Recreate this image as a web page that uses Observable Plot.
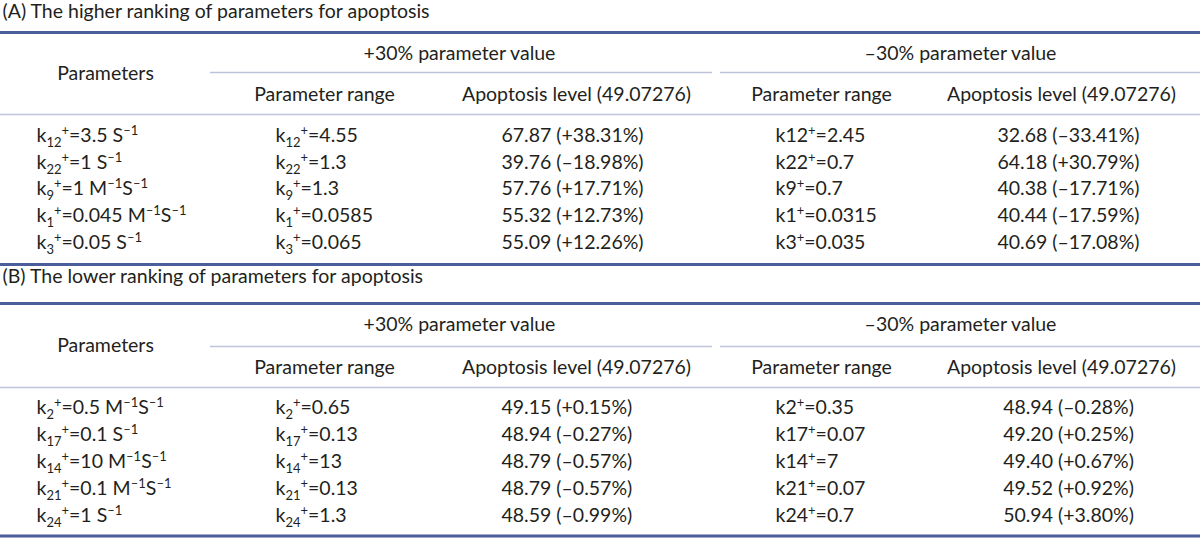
<!DOCTYPE html>
<html><head><meta charset="utf-8">
<script src="https://cdn.jsdelivr.net/npm/d3@7"></script>
<script src="https://cdn.jsdelivr.net/npm/@observablehq/plot@0.6"></script>
<style>body{margin:0;background:#fff;}</style>
</head><body><div id="chart"></div>
<script>
// ---------- data ----------
const titleA = "(A) The higher ranking of parameters for apoptosis";
const titleB = "(B) The lower ranking of parameters for apoptosis";
const groupHeaders = ["+30% parameter value", "–30% parameter value"];
const colHeaders = ["Parameters", "Parameter range", "Apoptosis level (49.07276)", "Parameter range", "Apoptosis level (49.07276)"];

const idxA = ["12", "22", "9", "1", "3"];
const baseA = ["3.5", "1", "1", "0.045", "0.05"];
const unitA = ["S^{–1}", "S^{–1}", "M^{–1}S^{–1}", "M^{–1}S^{–1}", "S^{–1}"];
const plusValA = ["4.55", "1.3", "1.3", "0.0585", "0.065"];
const plusLevelA = [67.87, 39.76, 57.76, 55.32, 55.09];
const plusPctA = ["+38.31%", "–18.98%", "+17.71%", "+12.73%", "+12.26%"];
const minusValA = ["2.45", "0.7", "0.7", "0.0315", "0.035"];
const minusLevelA = [32.68, 64.18, 40.38, 40.44, 40.69];
const minusPctA = ["–33.41%", "+30.79%", "–17.71%", "–17.59%", "–17.08%"];

const idxB = ["2", "17", "14", "21", "24"];
const baseB = ["0.5", "0.1", "10", "0.1", "1"];
const unitB = ["M^{–1}S^{–1}", "S^{–1}", "M^{–1}S^{–1}", "M^{–1}S^{–1}", "S^{–1}"];
const plusValB = ["0.65", "0.13", "13", "0.13", "1.3"];
const plusLevelB = [49.15, 48.94, 48.79, 48.79, 48.59];
const plusPctB = ["+0.15%", "–0.27%", "–0.57%", "–0.57%", "–0.99%"];
const minusValB = ["0.35", "0.07", "7", "0.07", "0.7"];
const minusLevelB = [48.94, 49.20, 49.40, 49.52, 50.94];
const minusPctB = ["–0.28%", "+0.25%", "+0.67%", "+0.92%", "+3.80%"];

// ---------- layout ----------
const W = 1200, H = 538;
const FONT = "Lato, 'Noto Sans', sans-serif";
const FS = 19.5;
const INK = "#231f20";
const DARK = "#4b5e9c";
const LIGHT = "#bcc3da";
const colX = {c1: 36, c2: 275, c3: 501, c4: 775, c5: 1068};
const headX = [105, 324, 576, 821, 1061];
const groupX = [459, 960];
const sub1 = [210, 712], sub2 = [720, 1200];
const tables = [
  {title: titleA, top: 11, rule: 32, group: 53, subrule: 72, head: 94, hrule: 114, row0: 135, step: 26.8, bottom: 264,
   idx: idxA, base: baseA, unit: unitA, pv: plusValA, pl: plusLevelA, pp: plusPctA, mv: minusValA, ml: minusLevelA, mp: minusPctA},
  {title: titleB, top: 276, rule: 303, group: 324, subrule: 346, head: 367, hrule: 387, row0: 407, step: 27, bottom: 535.5,
   idx: idxB, base: baseB, unit: unitB, pv: plusValB, pl: plusLevelB, pp: plusPctB, mv: minusValB, ml: minusLevelB, mp: minusPctB}
];

const titles = [], thick = [], thin = [], subrules = [], groups = [], heads = [], cells = [];
for (const t of tables) {
  titles.push({x: 2, y: t.top, text: t.title});
  thick.push({y: t.rule}, {y: t.bottom});
  thin.push({y: t.hrule});
  subrules.push({y: t.subrule, x1: sub1[0], x2: sub1[1]}, {y: t.subrule, x1: sub2[0], x2: sub2[1]});
  groups.push({x: groupX[0], y: t.group, text: groupHeaders[0]}, {x: groupX[1], y: t.group, text: groupHeaders[1]});
  heads.push({x: headX[0], y: (t.group + t.head) / 2, text: colHeaders[0]});
  for (let k = 1; k < 5; k++) heads.push({x: headX[k], y: t.head, text: colHeaders[k]});
  t.idx.forEach((id, i) => {
    const y = t.row0 + i * t.step;
    cells.push({x: colX.c1, y, a: "start", text: `k_{${id}}^{+}=${t.base[i]} ${t.unit[i]}`});
    cells.push({x: colX.c2, y, a: "start", text: `k_{${id}}^{+}=${t.pv[i]}`});
    cells.push({x: colX.c3, y, a: "start", text: `${t.pl[i].toFixed(2)} (${t.pp[i]})`});
    cells.push({x: colX.c4, y, a: "start", text: `k${id}^{+}=${t.mv[i]}`});
    cells.push({x: colX.c5, y, a: "middle", text: `${t.ml[i].toFixed(2)} (${t.mp[i]})`});
  });
}

const common = {fontSize: FS, fill: INK, fontFamily: FONT};
const svg = Plot.plot({
  width: W, height: H, margin: 0,
  x: {type: "linear", domain: [0, W], range: [0, W], axis: null},
  y: {type: "linear", domain: [0, H], range: [0, H], axis: null},
  style: {fontFamily: FONT, background: "#fff"},
  marks: [
    Plot.ruleY(thick, {y: "y", x1: 0, x2: W, stroke: DARK, strokeWidth: 3}),
    Plot.ruleY(thin, {y: "y", x1: 0, x2: W, stroke: LIGHT, strokeWidth: 1.6}),
    Plot.ruleY(subrules, {y: "y", x1: "x1", x2: "x2", stroke: LIGHT, strokeWidth: 1.6}),
    Plot.text(titles, {x: "x", y: "y", text: "text", textAnchor: "start", ...common}),
    Plot.text(groups, {x: "x", y: "y", text: "text", textAnchor: "middle", ...common}),
    Plot.text(heads, {x: "x", y: "y", text: "text", textAnchor: "middle", ...common}),
    Plot.text(cells.filter(d => d.a === "start"), {x: "x", y: "y", text: "text", textAnchor: "start", ...common}),
    Plot.text(cells.filter(d => d.a === "middle"), {x: "x", y: "y", text: "text", textAnchor: "middle", ...common})
  ]
});

// rich text: _{..} subscript, ^{..} superscript
const SUB = 5, SUP = -7, SMALL = 13;
const NS = "http://www.w3.org/2000/svg";
svg.querySelectorAll("text").forEach(t => {
  const s = t.textContent;
  if (!/[_^]\{/.test(s)) return;
  while (t.firstChild) t.removeChild(t.firstChild);
  const re = /([_^])\{([^}]*)\}/g;
  let last = 0, shift = 0, m;
  const add = (str, kind) => {
    const ts = document.createElementNS(NS, "tspan");
    const target = kind === "_" ? SUB : kind === "^" ? SUP : 0;
    ts.setAttribute("dy", target - shift);
    shift = target;
    if (kind) ts.setAttribute("font-size", SMALL);
    ts.textContent = str;
    t.appendChild(ts);
  };
  while ((m = re.exec(s))) {
    if (m.index > last) add(s.slice(last, m.index), null);
    add(m[2], m[1]);
    last = re.lastIndex;
  }
  if (last < s.length) add(s.slice(last), null);
});

document.getElementById("chart").appendChild(svg);
</script></body></html>
